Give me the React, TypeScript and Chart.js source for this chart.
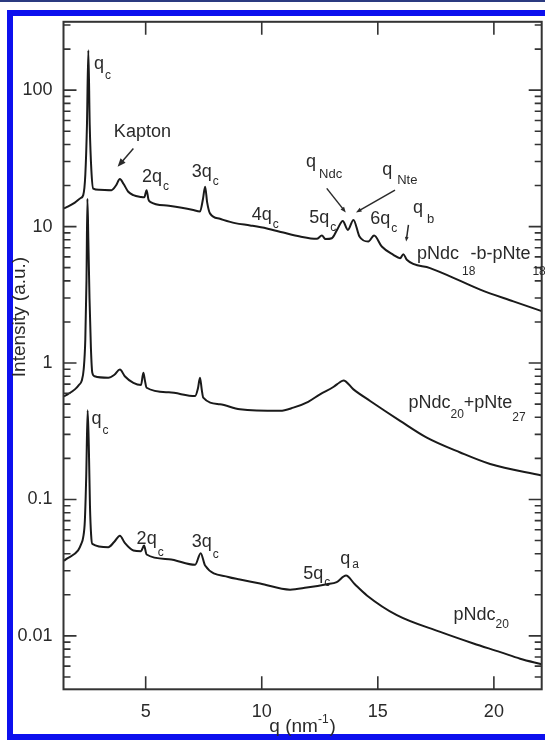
import { useEffect, useRef } from "react";
import { Chart, registerables } from "chart.js";

Chart.register(...registerables);

// ---------- data ----------
const qTop = [1.48, 1.64, 1.95, 2.2, 2.31, 2.4, 2.47, 2.53, 2.59, 2.66, 2.74, 3.0, 3.53, 3.72, 3.89, 4.05, 4.25, 4.47, 4.8, 4.94, 5.04, 5.12, 5.19, 6.0, 7.0, 7.34, 7.47, 7.56, 7.65, 7.77, 8.2, 8.85, 9.5, 10.22, 10.93, 11.65, 12.37, 12.59, 12.75, 13.02, 13.25, 13.49, 13.71, 13.95, 14.21, 14.59, 14.84, 15.17, 15.67, 15.96, 16.1, 16.25, 17.25, 17.97, 19.41, 20.84, 22.06];
const iTop = [13.6, 14.0, 15.0, 16.2, 17.0, 24, 55, 196, 55, 26, 19.0, 18.6, 18.5, 20.0, 22.3, 20.5, 18.0, 17.0, 16.5, 16.4, 18.5, 15.8, 15.2, 14.2, 13.3, 12.9, 16, 19.6, 15, 12.5, 11.4, 10.6, 10.2, 9.7, 9.04, 8.45, 8.13, 8.6, 8.1, 8.22, 9.5, 11.0, 9.46, 11.2, 8.45, 7.77, 8.6, 7.14, 6.21, 5.86, 6.28, 5.71, 4.96, 4.43, 3.45, 2.83, 2.4];

const qMid = [1.48, 1.64, 1.95, 2.12, 2.24, 2.33, 2.4, 2.45, 2.49, 2.53, 2.58, 2.64, 2.7, 2.8, 3.39, 3.65, 3.89, 4.1, 4.47, 4.8, 4.9, 4.97, 5.04, 6.0, 7.13, 7.25, 7.34, 7.42, 7.48, 8.2, 9.06, 10.79, 11.36, 12.0, 12.51, 13.1, 13.35, 13.52, 13.95, 14.67, 15.96, 17.11, 18.55, 19.84, 22.06];
const iMid = [0.57, 0.59, 0.641, 0.69, 0.738, 0.9, 1.5, 4, 16, 8, 3, 1.3, 0.85, 0.8, 0.78, 0.82, 0.897, 0.8, 0.716, 0.69, 0.848, 0.74, 0.659, 0.61, 0.573, 0.65, 0.78, 0.63, 0.557, 0.499, 0.458, 0.446, 0.471, 0.52, 0.59, 0.67, 0.72, 0.746, 0.641, 0.527, 0.377, 0.284, 0.221, 0.182, 0.15];

const qBot = [1.48, 1.59, 2.09, 2.22, 2.31, 2.38, 2.44, 2.5, 2.55, 2.6, 2.65, 2.7, 3.39, 3.65, 3.89, 4.1, 4.47, 4.8, 4.93, 5.04, 6.0, 7.13, 7.37, 7.56, 8.56, 9.06, 9.93, 11.22, 11.94, 12.8, 13.23, 13.63, 14.0, 14.53, 15.82, 17.69, 19.12, 20.28, 21.13, 22.06];
const iBot = [0.0355, 0.0367, 0.0423, 0.047, 0.0529, 0.07, 0.15, 0.45, 0.25, 0.09, 0.055, 0.0473, 0.0447, 0.049, 0.0543, 0.048, 0.0423, 0.0418, 0.0459, 0.0395, 0.0365, 0.0332, 0.0404, 0.0328, 0.027, 0.0259, 0.0242, 0.0218, 0.0226, 0.0239, 0.0248, 0.0277, 0.024, 0.0198, 0.0142, 0.0107, 0.0088, 0.0076, 0.0068, 0.0062];

const seriesNames = ["pNdc18-b-pNte18", "pNdc20+pNte27", "pNdc20"];

const xTicks = [5, 10, 15, 20];
const xTickLabels = ["5", "10", "15", "20"];
const yTicks = [0.01, 0.1, 1, 10, 100];
const yTickLabels = ["0.01", "0.1", "1", "10", "100"];

const X_MIN = 1.46;
const X_MAX = 22.06;
const Y_MIN = 0.00406;
const Y_MAX = 317;

const xTitle = ["q (nm", "-1", ")"];
const yTitle = "Intensity (a.u.)";

// annotation labels: anchor in data coordinates (q, intensity)
type Part = { t: string; sub?: boolean; dy?: number; gap?: number; size?: number };
const labels: { q: number; v: number; parts: Part[] }[] = [
  { q: 2.77, v: 142.6, parts: [{ t: "q" }, { t: "c", sub: true, dy: 10, gap: 1 }] },
  { q: 3.63, v: 45.4, parts: [{ t: "Kapton" }] },
  { q: 4.84, v: 21.3, parts: [{ t: "2q" }, { t: "c", sub: true, dy: 8, gap: 1 }] },
  { q: 6.98, v: 23.2, parts: [{ t: "3q" }, { t: "c", sub: true, dy: 8, gap: 1 }] },
  { q: 9.57, v: 11.2, parts: [{ t: "4q" }, { t: "c", sub: true, dy: 8, gap: 1 }] },
  { q: 12.05, v: 10.6, parts: [{ t: "5q" }, { t: "c", sub: true, dy: 8, gap: 1 }] },
  { q: 11.91, v: 27.4, parts: [{ t: "q" }, { t: "Ndc", sub: true, dy: 11, gap: 3, size: 13 }] },
  { q: 15.19, v: 24.0, parts: [{ t: "q" }, { t: "Nte", sub: true, dy: 9, gap: 5, size: 13 }] },
  { q: 14.67, v: 10.4, parts: [{ t: "6q" }, { t: "c", sub: true, dy: 8, gap: 1 }] },
  { q: 16.52, v: 12.5, parts: [{ t: "q" }, { t: "b", sub: true, dy: 10, gap: 4, size: 13 }] },
  { q: 16.69, v: 5.81, parts: [{ t: "pNdc" }, { t: "18", sub: true, dy: 16, gap: 3 }, { t: "-b-pNte", gap: -5 }, { t: "18", sub: true, dy: 16, gap: 2 }] },
  { q: 16.32, v: 0.471, parts: [{ t: "pNdc" }, { t: "20", sub: true, dy: 10, gap: 0 }, { t: "+pNte" }, { t: "27", sub: true, dy: 13, gap: 0 }] },
  { q: 2.67, v: 0.358, parts: [{ t: "q" }, { t: "c", sub: true, dy: 10, gap: 1 }] },
  { q: 4.61, v: 0.0473, parts: [{ t: "2q" }, { t: "c", sub: true, dy: 12, gap: 1 }] },
  { q: 6.98, v: 0.0447, parts: [{ t: "3q" }, { t: "c", sub: true, dy: 11, gap: 1 }] },
  { q: 11.79, v: 0.0262, parts: [{ t: "5q" }, { t: "c", sub: true, dy: 7, gap: 1 }] },
  { q: 13.38, v: 0.0337, parts: [{ t: "q" }, { t: "a", sub: true, dy: 4, gap: 2 }] },
  { q: 18.26, v: 0.013, parts: [{ t: "pNdc" }, { t: "20", sub: true, dy: 8, gap: 0 }] },
];

// arrows: from -> to in data coordinates
const arrows: { from: [number, number]; to: [number, number]; head: number }[] = [
  { from: [4.47, 37.3], to: [3.79, 27.4], head: 9 },
  { from: [12.8, 19.05], to: [13.62, 12.7], head: 6 },
  { from: [15.74, 18.5], to: [14.06, 12.7], head: 6 },
  { from: [16.32, 10.3], to: [16.22, 7.77], head: 5 },
];

const FONT = '"Liberation Sans", Arial, Helvetica, sans-serif';
const TEXT = "#2a2a2a";
const AXIS = "#333333";

function labelFor(v: number, ticks: number[], names: string[]) {
  for (let i = 0; i < ticks.length; i++) {
    if (Math.abs(v - ticks[i]) / ticks[i] < 1e-6) return names[i];
  }
  return "";
}

const decorPlugin = {
  id: "decor",
  beforeDraw(chart: any) {
    const ctx = chart.ctx;
    const W = chart.width;
    ctx.save();
    ctx.fillStyle = "#ffffff";
    ctx.fillRect(0, 0, W, chart.height);
    ctx.fillStyle = "#2b3a80";
    ctx.fillRect(0, 0, W, 2);
    ctx.fillStyle = "#0d10ee";
    ctx.fillRect(7, 10, W - 7, 6);
    ctx.fillRect(7, 10, 6, 730);
    ctx.fillRect(7, 734, W - 7, 6);
    ctx.restore();
  },
  afterDraw(chart: any) {
    const ctx = chart.ctx;
    const xs = chart.scales.x;
    const ys = chart.scales.y;
    const { left, right, top, bottom } = chart.chartArea;
    ctx.save();
    // ticks
    ctx.strokeStyle = AXIS;
    ctx.lineWidth = 1.6;
    ctx.beginPath();
    for (const v of xTicks) {
      const x = xs.getPixelForValue(v);
      ctx.moveTo(x, bottom);
      ctx.lineTo(x, bottom - 13);
      ctx.moveTo(x, top);
      ctx.lineTo(x, top + 13);
    }
    for (let e = -3; e <= 2; e++) {
      for (let m = 1; m <= 9; m++) {
        const v = m * Math.pow(10, e);
        if (v < Y_MIN || v > Y_MAX) continue;
        const y = ys.getPixelForValue(v);
        const len = m === 1 ? 13 : 7;
        ctx.moveTo(left, y);
        ctx.lineTo(left + len, y);
        ctx.moveTo(right, y);
        ctx.lineTo(right - len, y);
      }
    }
    ctx.stroke();
    // frame
    ctx.lineWidth = 2;
    ctx.strokeRect(left, top, right - left, bottom - top);

    // annotations
    ctx.fillStyle = TEXT;
    ctx.textAlign = "left";
    ctx.textBaseline = "alphabetic";
    for (const lab of labels) {
      let x = xs.getPixelForValue(lab.q);
      const y = ys.getPixelForValue(lab.v);
      for (const p of lab.parts) {
        x += p.gap || 0;
        ctx.font = `${p.sub ? p.size || 12 : 18}px ${FONT}`;
        ctx.fillText(p.t, x, y + (p.dy || 0));
        x += ctx.measureText(p.t).width;
      }
    }
    // arrows
    ctx.strokeStyle = TEXT;
    ctx.lineWidth = 1.5;
    for (const a of arrows) {
      const x1 = xs.getPixelForValue(a.from[0]);
      const y1 = ys.getPixelForValue(a.from[1]);
      const x2 = xs.getPixelForValue(a.to[0]);
      const y2 = ys.getPixelForValue(a.to[1]);
      const ang = Math.atan2(y2 - y1, x2 - x1);
      const h = a.head;
      ctx.beginPath();
      ctx.moveTo(x1, y1);
      ctx.lineTo(x2 - Math.cos(ang) * h * 0.6, y2 - Math.sin(ang) * h * 0.6);
      ctx.stroke();
      ctx.beginPath();
      ctx.moveTo(x2, y2);
      ctx.lineTo(x2 - h * Math.cos(ang - 0.38), y2 - h * Math.sin(ang - 0.38));
      ctx.lineTo(x2 - h * Math.cos(ang + 0.38), y2 - h * Math.sin(ang + 0.38));
      ctx.closePath();
      ctx.fill();
    }

    // axis titles
    ctx.font = `19px ${FONT}`;
    ctx.save();
    ctx.translate(20, 317);
    ctx.rotate(-Math.PI / 2);
    ctx.textAlign = "center";
    ctx.textBaseline = "middle";
    ctx.fillText(yTitle, 0, 0);
    ctx.restore();

    ctx.textAlign = "left";
    ctx.textBaseline = "alphabetic";
    ctx.font = `19px ${FONT}`;
    const w0 = ctx.measureText(xTitle[0]).width;
    const w2 = ctx.measureText(xTitle[2]).width;
    ctx.font = `12px ${FONT}`;
    const w1 = ctx.measureText(xTitle[1]).width;
    const total = w0 + w1 + w2 + 1;
    let tx = (left + right) / 2 - total / 2;
    const ty = 732;
    ctx.font = `19px ${FONT}`;
    ctx.fillText(xTitle[0], tx, ty);
    tx += w0;
    ctx.font = `12px ${FONT}`;
    ctx.fillText(xTitle[1], tx, ty - 9);
    tx += w1 + 1;
    ctx.font = `19px ${FONT}`;
    ctx.fillText(xTitle[2], tx, ty);
    ctx.restore();
  },
};

export default function App() {
  const ref = useRef<HTMLCanvasElement | null>(null);
  useEffect(() => {
    if (!ref.current) return;
    const mk = (qs: number[], is: number[]) => qs.map((q, i) => ({ x: q, y: is[i] }));
    const ds = (label: string, data: any) => ({
      label,
      data,
      borderColor: "#1a1a1a",
      borderWidth: 2,
      pointRadius: 0,
      cubicInterpolationMode: "monotone",
      fill: false,
    });
    const chart = new Chart(ref.current, {
      type: "line",
      data: {
        datasets: [
          ds(seriesNames[0], mk(qTop, iTop)),
          ds(seriesNames[1], mk(qMid, iMid)),
          ds(seriesNames[2], mk(qBot, iBot)),
        ],
      },
      options: {
        animation: false,
        responsive: false,
        devicePixelRatio: 1,
        parsing: false as any,
        layout: { padding: { left: 0, top: 19.5, right: 3.3, bottom: 0 } },
        plugins: { legend: { display: false }, tooltip: { enabled: false } },
        scales: {
          x: {
            type: "linear",
            min: X_MIN,
            max: X_MAX,
            afterBuildTicks: (s: any) => {
              s.ticks = xTicks.map((v) => ({ value: v }));
            },
            afterFit: (s: any) => {
              s.height = 52.7;
            },
            ticks: {
              autoSkip: false,
              maxRotation: 0,
              padding: 12,
              color: TEXT,
              font: { family: FONT, size: 18 },
              callback: (v: any) => labelFor(Number(v), xTicks, xTickLabels),
            },
            grid: { display: false, drawTicks: false, tickLength: 0 },
            border: { display: false },
          },
          y: {
            type: "logarithmic",
            min: Y_MIN,
            max: Y_MAX,
            afterBuildTicks: (s: any) => {
              s.ticks = yTicks.map((v) => ({ value: v }));
            },
            afterFit: (s: any) => {
              s.width = 63.5;
            },
            ticks: {
              autoSkip: false,
              padding: 11,
              color: TEXT,
              font: { family: FONT, size: 18 },
              callback: (v: any) => labelFor(Number(v), yTicks, yTickLabels),
            },
            grid: { display: false, drawTicks: false, tickLength: 0 },
            border: { display: false },
          },
        },
      },
      plugins: [decorPlugin],
    } as any);
    return () => chart.destroy();
  }, []);
  return (
    <div style={{ position: "absolute", left: 0, top: 0, width: 545, height: 742 }}>
      <canvas ref={ref} width={545} height={742} style={{ display: "block" }} />
    </div>
  );
}
